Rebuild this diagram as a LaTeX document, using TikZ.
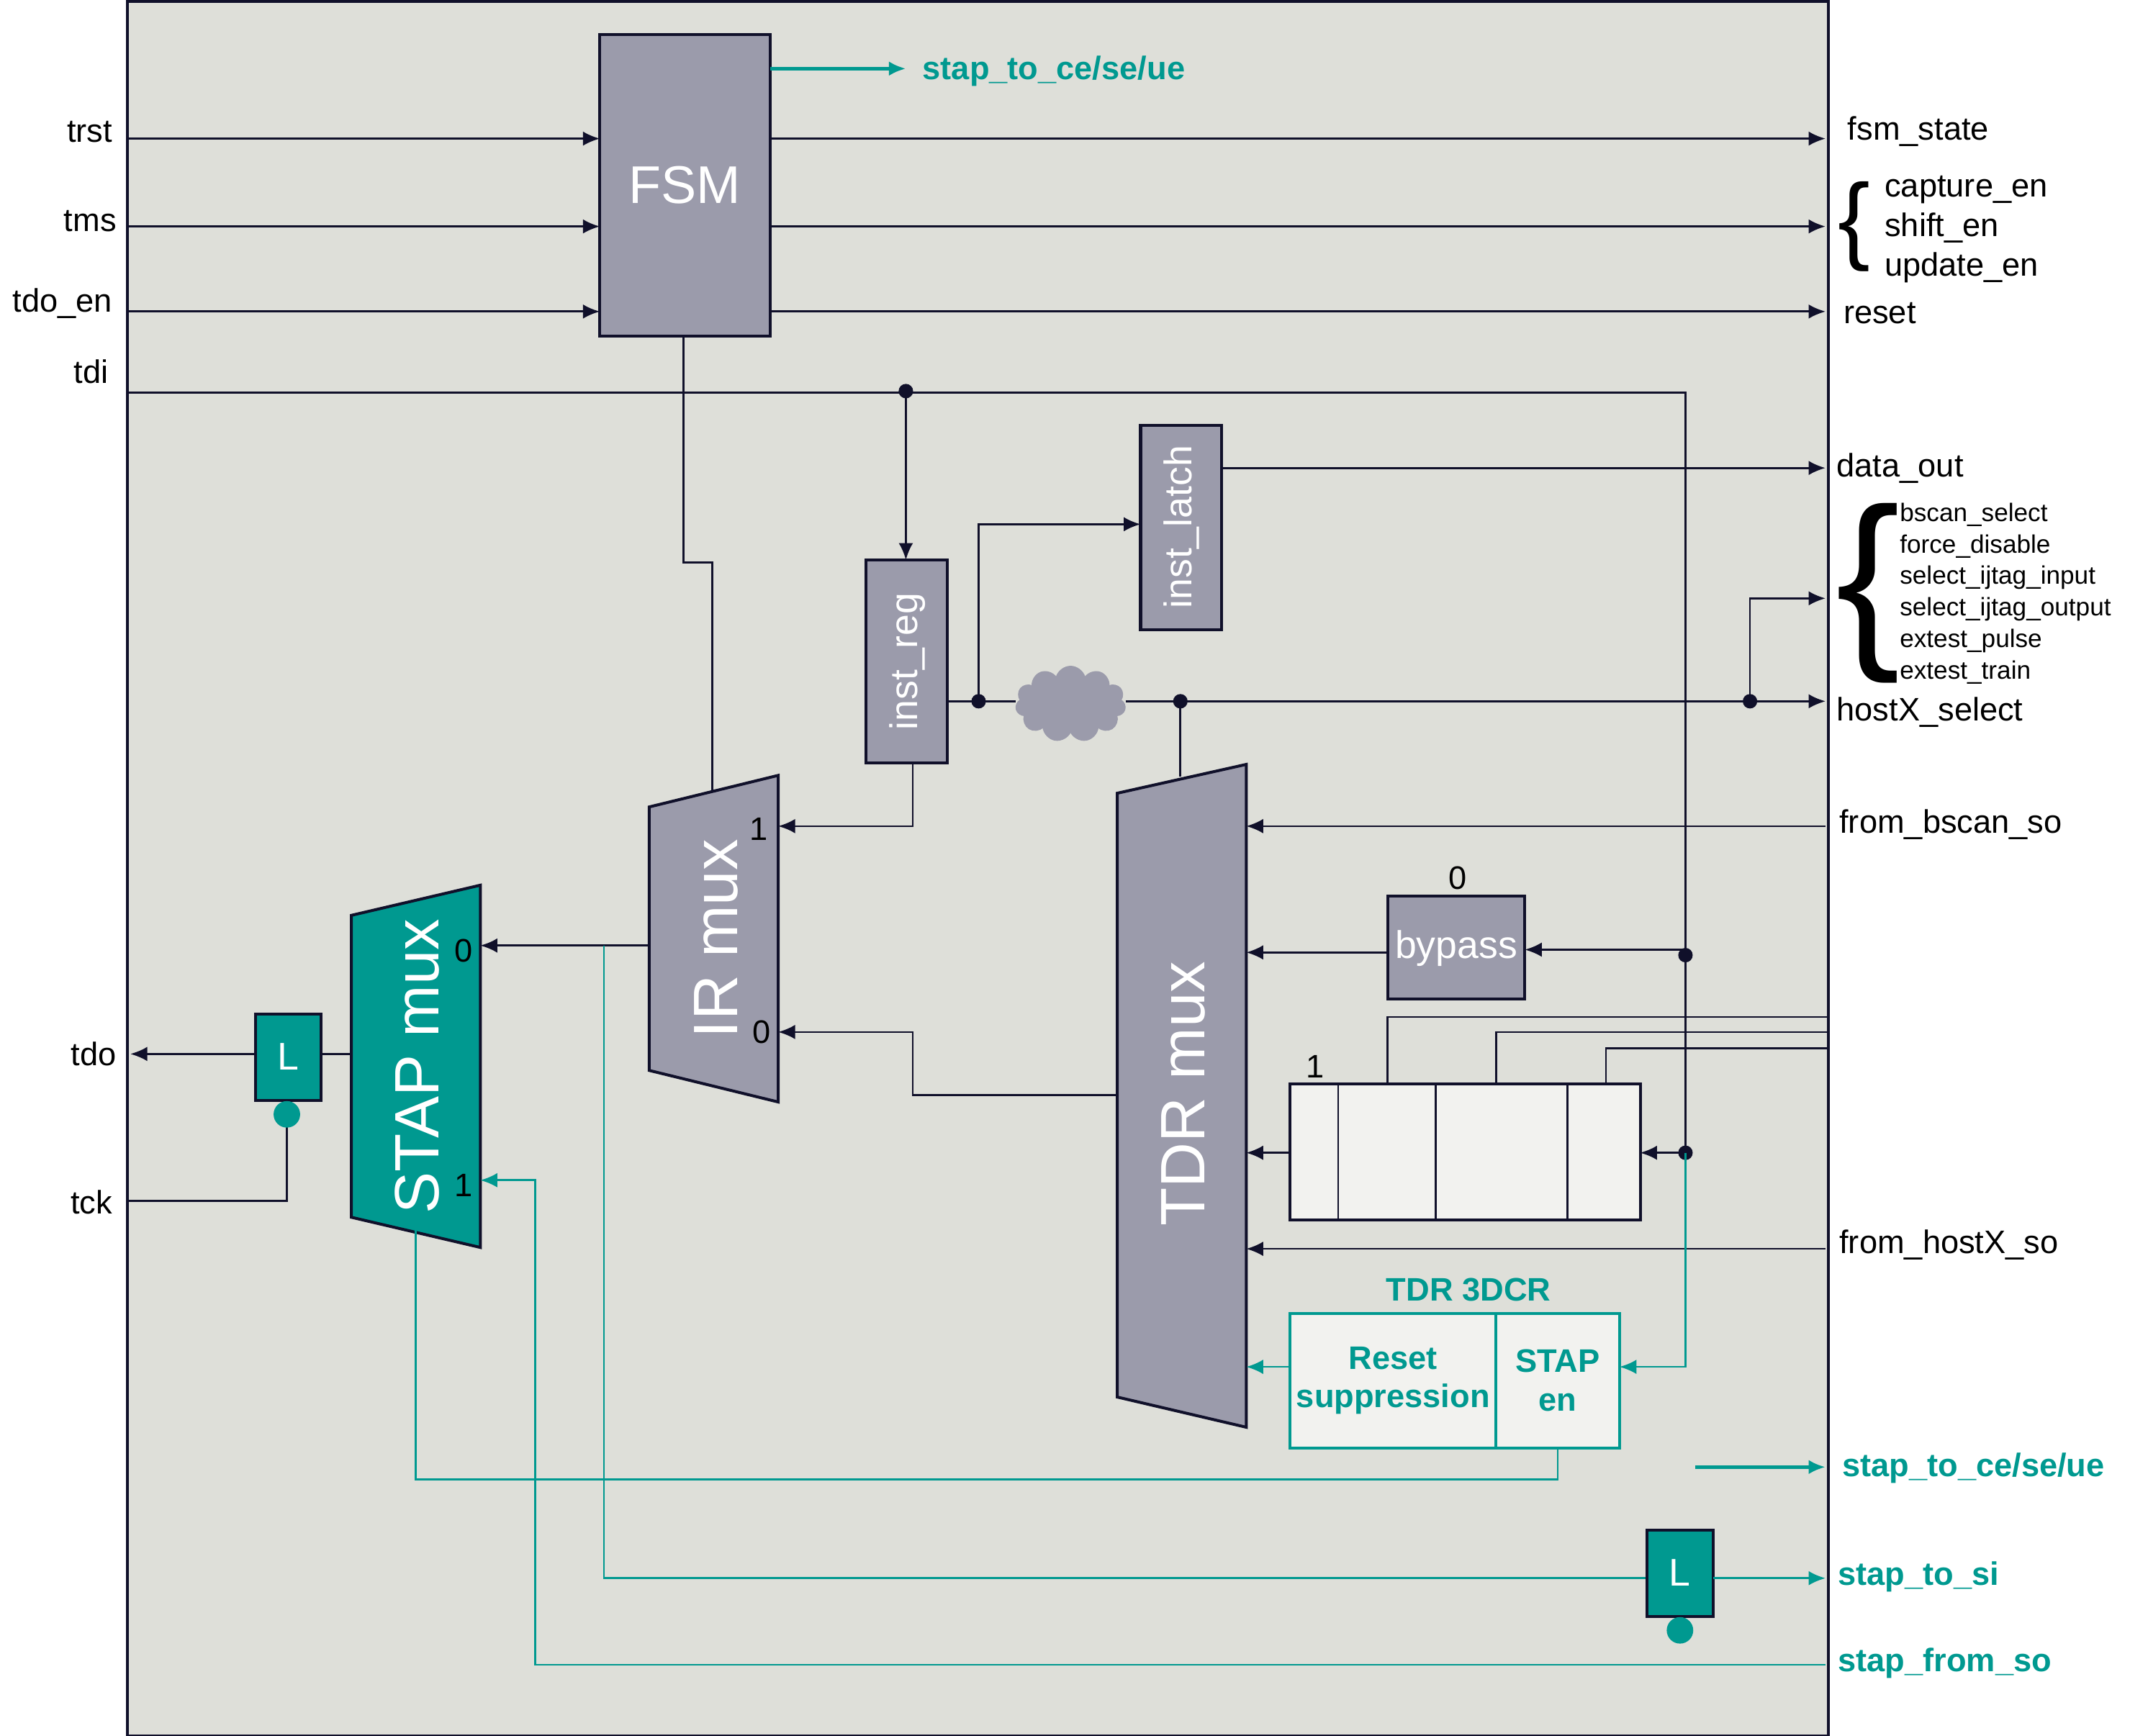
\documentclass[tikz,border=0pt]{standalone}
\usepackage{fontspec}
\setmainfont{Liberation Sans}
\usetikzlibrary{arrows.meta,shapes.symbols,decorations.pathreplacing}
\definecolor{bg}{HTML}{DEDFD9}
\definecolor{blk}{HTML}{9B9BAB}
\definecolor{tl}{HTML}{009990}
\definecolor{lt}{HTML}{F2F2EF}
\definecolor{nv}{HTML}{10102A}
\begin{document}
\begin{tikzpicture}[x=0.02cm,y=-0.02cm,
 w/.style={draw=nv,line width=0.8pt},
 a/.style={w,-{Latex[length=7pt,width=6pt]}},
 ta/.style={draw=tl,line width=0.8pt,-{Latex[length=7pt,width=6pt]}},
 t/.style={draw=tl,line width=0.8pt},
 gb/.style={fill=blk,draw=nv,line width=1.2pt},
 tb/.style={fill=tl,draw=nv,line width=1.2pt},
 lb/.style={font=\fontsize{13.5}{16}\selectfont,text=black},
 sl/.style={font=\fontsize{10.5}{13}\selectfont,text=black,anchor=west},
 tlb/.style={font=\fontsize{13.5}{16}\selectfont\bfseries,text=tl},
 dot/.style={circle,fill=nv,inner sep=0pt,minimum size=6pt},
 tdot/.style={circle,fill=tl,inner sep=0pt,minimum size=11pt},
 wt/.style={text=white}]
\useasboundingbox (0,0) rectangle (1565,1265);
\draw[fill=bg,draw=nv,line width=1.2pt] (93,1) rectangle (1332,1265);
% FSM
\draw[gb] (437,25) rectangle (561,245);
\node[wt,font=\fontsize{22}{24}\selectfont] (fsm) at (499,135) {FSM};
\draw[ta,line width=1.5pt] (561,50) -- (660,50);
\node[tlb,anchor=west] (s1) at (666,52) {stap\_to\_ce/se/ue};
% inputs
\foreach \y/\n in {101/trst,165/tms,227/tdo_en}{
  \draw[a] (93,\y) -- (437,\y);
  \draw[a] (561,\y) -- (1330,\y);}
\node[lb,anchor=east] at (88,96) {trst};
\node[lb,anchor=east] at (91,161) {tms};
\node[lb,anchor=east] at (88,221) {tdo\_en};
\node[lb,anchor=east] at (85,271) {tdi};
\node[lb,anchor=west] at (1340,96) {fsm\_state};
\node[lb,anchor=west] at (1337,228) {reset};
\node[lb,anchor=west] at (1367,138) {capture\_en};
\node[lb,anchor=west] at (1367,166) {shift\_en};
\node[lb,anchor=west] at (1367,195) {update\_en};
\node[font=\fontsize{40}{40}\selectfont] at (1351,165) {\{};
\node[font=\fontsize{80}{80}\selectfont] at (1361,432) {\{};
% tdi
\draw[w] (93,286) -- (1228,286) -- (1228,840);
\node[dot] at (660,285) {};
\draw[a] (660,285) -- (660,408);
% inst_reg, inst_latch
\draw[gb] (631,408) rectangle (690,556);
\node[wt,rotate=90,font=\fontsize{16}{18}\selectfont] (ir) at (661,482) {inst\_reg};
\draw[gb] (831,310) rectangle (890,459);
\node[wt,rotate=90,font=\fontsize{16}{18}\selectfont] (il) at (861,384) {inst\_latch};
\draw[a] (890,341) -- (1330,341);
\node[lb,anchor=west] at (1332,341) {data\_out};
\draw[w] (690,511) -- (740,511);
\node[dot] at (713,511) {};
\draw[a] (713,511) -- (713,382) -- (831,382);
\node[cloud,cloud puffs=11,fill=blk,draw=blk,minimum width=1.6cm,minimum height=1.1cm,inner sep=0pt] (cl) at (780,513) {};
\draw[a] (820,511) -- (1330,511);
\node[dot] at (860,511) {};
\node[dot] at (1275,511) {};
\draw[a] (1275,511) -- (1275,436) -- (1330,436);
\draw[w] (860,511) -- (860,566);
\node[lb,anchor=west] at (1332,519) {hostX\_select};
\foreach \y/\s in {375/bscan\_select,398/force\_disable,421/select\_ijtag\_input,444/select\_ijtag\_output,467/extest\_pulse,490/extest\_train}
  \node[sl] at (1378,\y) {\s};
% FSM to IR mux
\draw[w] (498,245) -- (498,410) -- (519,410) -- (519,577);
% IR mux
\draw[gb] (473,588) -- (567,565) -- (567,803) -- (473,780) -- cycle;
\node[wt,rotate=90,font=\fontsize{26}{28}\selectfont] (irm) at (522,684) {IR mux};
\node[lb] at (553,604) {1};
\node[lb] at (555,752) {0};
\draw[a] (665,556) -- (665,602) -- (567,602);
% STAP mux
\draw[tb] (256,667) -- (350,645) -- (350,909) -- (256,887) -- cycle;
\node[wt,rotate=90,font=\fontsize{26}{28}\selectfont] (sm) at (304,777) {STAP mux};
\node[lb] at (338,693) {0};
\node[lb] at (338,864) {1};
\draw[a] (473,689) -- (350,689);
% L box tdo
\draw[tb] (186,739) rectangle (234,802);
\node[wt,font=\fontsize{16}{18}\selectfont] (L1) at (210,770) {L};
\draw[w] (256,768) -- (234,768);
\draw[a] (186,768) -- (95,768);
\node[lb,anchor=east] at (91,768) {tdo};
\draw[w] (93,875) -- (209,875) -- (209,812);
\node[tdot] at (209,812) {};
\node[lb,anchor=east] at (88,876) {tck};
% teal lines
\draw[t] (440,689) -- (440,1150) -- (1200,1150);
\draw[tb] (1200,1115) rectangle (1248,1178);
\node[wt,font=\fontsize{16}{18}\selectfont] (L2) at (1224,1146) {L};
\node[tdot] at (1224,1188) {};
\draw[ta] (1248,1150) -- (1330,1150);
\node[tlb,anchor=west] at (1333,1149) {stap\_to\_si};
\draw[ta] (1330,1213) -- (390,1213) -- (390,860) -- (350,860);
\node[tlb,anchor=west] at (1333,1212) {stap\_from\_so};
\draw[t] (303,895) -- (303,1078) -- (1135,1078) -- (1135,1055);
\draw[ta,line width=1.5pt] (1235,1069) -- (1330,1069);
\node[tlb,anchor=west] at (1336,1070) {stap\_to\_ce/se/ue};
% TDR mux
\draw[gb] (814,578) -- (908,557) -- (908,1040) -- (814,1018) -- cycle;
\node[wt,rotate=90,font=\fontsize{26}{28}\selectfont] (tm) at (862,797) {TDR mux};
\draw[a] (814,798) -- (665,798) -- (665,752) -- (567,752);
\draw[a] (1330,602) -- (908,602);
\node[lb,anchor=west] at (1334,601) {from\_bscan\_so};
\draw[a] (1330,910) -- (908,910);
\node[lb,anchor=west] at (1334,907) {from\_hostX\_so};
% bypass
\draw[gb] (1011,653) rectangle (1111,728);
\node[wt,font=\fontsize{16}{18}\selectfont] (bp) at (1061,691) {bypass};
\node[lb] at (1062,640) {0};
\node[dot] at (1228,696) {};
\node[dot] at (1228,840) {};
\draw[a] (1228,692) -- (1111,692);
\draw[a] (1011,694) -- (908,694);
% register
\draw[fill=lt,draw=nv,line width=1.2pt] (940,790) rectangle (1195,889);
\foreach \x in {975,1046,1142} \draw[w] (\x,790) -- (\x,889);
\node[lb] at (958,777) {1};
\draw[a] (1228,840) -- (1195,840);
\draw[a] (940,840) -- (908,840);
\draw[w] (1011,790) -- (1011,741) -- (1332,741);
\draw[w] (1090,790) -- (1090,752) -- (1332,752);
\draw[w] (1170,790) -- (1170,764) -- (1332,764);
% TDR 3DCR
\node[tlb] at (1070,940) {TDR 3DCR};
\draw[fill=lt,draw=tl,line width=1.2pt] (940,957) rectangle (1090,1055);
\draw[fill=lt,draw=tl,line width=1.2pt] (1090,957) rectangle (1180,1055);
\node[tlb,align=center] (rs) at (1015,1006) {Reset\\suppression};
\node[tlb,align=center] (se) at (1135,1006) {STAP\\en};
\draw[ta] (940,996) -- (908,996);
\draw[ta] (1228,840) -- (1228,996) -- (1180,996);
\end{tikzpicture}
\end{document}
